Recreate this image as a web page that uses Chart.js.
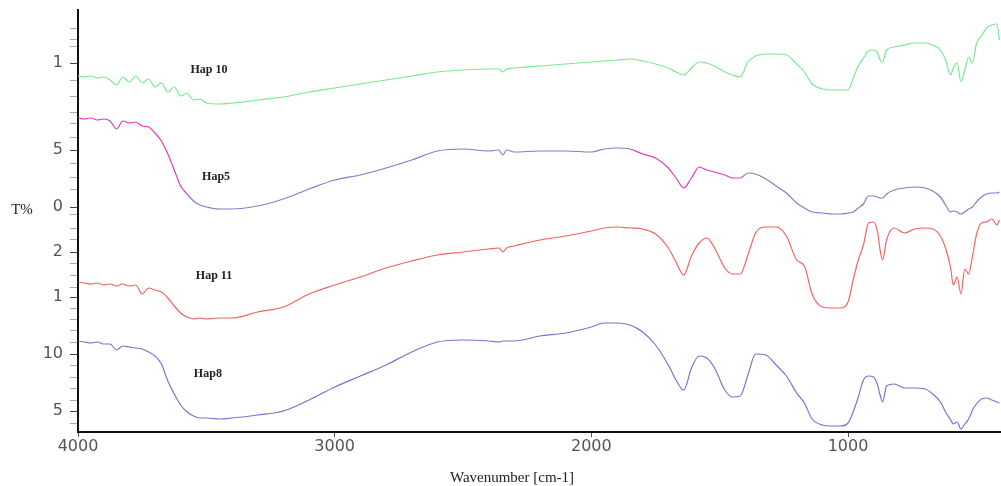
<!DOCTYPE html>
<html>
<head>
<meta charset="utf-8">
<script src="https://cdn.jsdelivr.net/npm/chart.js@4/dist/chart.umd.min.js"></script>
<style>
  html, body { margin: 0; padding: 0; background: #fff; }
</style>
</head>
<body>
<canvas id="ftir" width="1001" height="486"></canvas>
<script>
/* data (offset transmittance, spectra stacked) */
var wavenumber = [4000,3975,3950,3925,3900,3875,3850,3825,3800,3775,3750,3725,3700,3675,3650,3625,3600,3575,3550,3525,3500,
  3450,3400,
  3300,3200,3100,3000,2900,2800,2700,2600,2500,2400,
  2360,2345,2330,2300,
  2200,2100,2000,
  1950,1900,1850,1800,1750,1700,
  1670,1640,1610,1580,1550,1520,
  1480,1450,1420,1390,1360,
  1320,1280,1240,1200,
  1170,1140,1100,1060,1030,1000,
  980,960,940,920,900,
  885,875,865,850,
  820,780,740,700,
  670,640,620,600,
  590,575,560,545,530,515,500,
  480,460,440,420,410];

var hap10 = [356,355,356,354,355,352,347,355,350,356,349,353,345,349,340,345,336,339,332,333,329,
  328,329,
  332,335,340,344,348,352,356,360,362,363,
  363,360,363,364,
  366,368,370,
  371,372,373,371,368,364,
  360,357,364,370,369,366,
  360,357,355,370,376,
  378,378,377,368,
  360,348,343,342,342,342,
  354,366,374,381,382,
  379,372,370,382,
  385,387,389,389,
  387,382,372,357,
  364,369,350,362,375,369,388,
  396,404,407,408,392];

var hap5 = [314,313,314,312,313,311,303,311,309,310,306,305,299,291,278,262,246,238,231,227,225,
  223,223,
  226,233,243,252,257,264,272,281,283,281,
  282,277,282,280,
  281,281,280,
  283,284,283,278,274,264,
  254,244,254,265,262,260,
  257,254,254,259,258,
  253,246,239,229,
  224,220,219,218,218,219,
  220,224,228,236,236,
  235,234,234,238,
  242,244,245,244,
  241,235,227,220,
  221,220,218,220,223,225,230,
  235,238,239,239,240];

var hap11 = [150,149,148,149,147,148,146,148,146,147,138,144,142,140,134,126,119,115,113,114,113,
  114,114,
  120,125,138,147,155,164,171,177,180,183,
  184,180,184,186,
  192,196,201,
  204,205,204,203,198,184,
  170,157,176,189,194,184,
  164,158,158,177,199,
  205,205,196,172,
  166,138,125,124,124,130,
  152,172,187,209,210,
  200,182,172,192,
  204,199,203,204,
  203,196,184,164,
  147,155,138,163,158,176,197,
  209,210,213,207,212];

var hap8 = [91,90,89,90,88,88,82,86,85,84,83,80,76,68,51,38,27,20,16,14,14,
  13,14,
  17,21,32,45,56,67,80,90,92,91,
  90,91,91,91,
  96,99,105,
  109,109,107,100,87,67,
  52,42,64,76,74,64,
  42,35,36,57,78,
  77,67,56,39,
  29,13,7,6,6,9,
  20,35,52,56,55,
  47,37,30,46,
  48,44,44,43,
  38,30,20,12,
  8,10,3,8,13,22,28,
  33,34,32,30,29];

var seriesNames = ['Hap 10', 'Hap5', 'Hap 11', 'Hap8'];
var labelWn = [3490, 3462, 3470, 3494];
var labelLevel = [362, 255, 156, 58];

var xTicks = [4000, 3000, 2000, 1000];
var yMajorTicks = [369, 282, 225, 180, 135, 78, 21];
var yMajorLabels = ['1', '5', '0', '2', '1', '10', '5'];
var yMinorTicks = [403, 393, 385, 352, 335, 320, 309, 295, 269, 255, 242, 217, 204,
  192, 169, 157, 145, 124, 112, 102, 90, 67, 55, 44, 32, 9];

function pts(values) {
  return wavenumber.map((w, i) => ({ x: w, y: values[i] }));
}

var labelPlugin = {
  id: 'ftirLabels',
  afterDraw: function(chart) {
    var ctx = chart.ctx;
    var x = chart.scales.x, y = chart.scales.y;
    ctx.save();
    ctx.fillStyle = '#222';
    ctx.textAlign = 'center';
    ctx.textBaseline = 'middle';
    ctx.font = 'bold 12px "Liberation Serif", serif';
    seriesNames.forEach((name, i) => {
      ctx.fillText(name, x.getPixelForValue(labelWn[i]), y.getPixelForValue(labelLevel[i]));
    });
    ctx.font = '15px "Liberation Serif", serif';
    ctx.fillText('T%', 22, 210);
    ctx.fillText('Wavenumber [cm-1]', 512, 478);
    ctx.restore();
  }
};

var magentaZone = (w) => w > 3580 || (w < 1900 && w > 1440);

var ctx = document.getElementById('ftir').getContext('2d');
var ftirChart = new Chart(ctx, {
  type: 'line',
  data: {
    datasets: [
      { label: seriesNames[0], data: pts(hap10), borderColor: '#7ce893', borderWidth: 1.2 },
      { label: seriesNames[1], data: pts(hap5), borderColor: '#8a7ac6', borderWidth: 1.2,
        segment: { borderColor: (c) => magentaZone(c.p0.parsed.x) ? '#e23cb8' : '#8a7ac6' } },
      { label: seriesNames[2], data: pts(hap11), borderColor: '#ef6464', borderWidth: 1.2 },
      { label: seriesNames[3], data: pts(hap8), borderColor: '#7676cc', borderWidth: 1.2 }
    ]
  },
  options: {
    responsive: false,
    animation: false,
    events: [],
    layout: { padding: { top: 10, right: 0, left: 0, bottom: 0 } },
    elements: { point: { radius: 0 }, line: { cubicInterpolationMode: 'monotone' } },
    plugins: { legend: { display: false }, tooltip: { enabled: false } },
    scales: {
      x: {
        type: 'linear',
        reverse: true,
        min: 404,
        max: 4000,
        afterBuildTicks: (s) => { s.ticks = xTicks.map(v => ({ value: v })); },
        afterFit: (s) => { s.height = 54; },
        border: { display: true, color: '#111', width: 2 },
        grid: { drawOnChartArea: false, drawTicks: true, tickLength: 5, tickColor: '#555' },
        ticks: {
          autoSkip: false, maxRotation: 0, padding: 0,
          color: '#555',
          font: { family: '"DejaVu Sans", sans-serif', size: 16 },
          callback: (value) => String(value)
        }
      },
      y: {
        type: 'linear',
        min: 0,
        max: 422,
        afterBuildTicks: (s) => {
          s.ticks = yMajorTicks.concat(yMinorTicks).sort((a, b) => a - b).map(v => ({ value: v }));
        },
        afterFit: (s) => { s.width = 78; s.paddingTop = 0; s.paddingBottom = 0; },
        border: { display: true, color: '#111', width: 2 },
        grid: {
          drawOnChartArea: false, drawTicks: true, tickLength: 8,
          tickColor: (c) => yMajorTicks.indexOf(c.tick.value) >= 0 ? '#444' : '#aaa'
        },
        ticks: {
          autoSkip: false, padding: 7,
          color: '#555',
          font: { family: '"DejaVu Sans", sans-serif', size: 16 },
          callback: function(value) {
            var k = yMajorTicks.indexOf(value);
            return k >= 0 ? yMajorLabels[k] : '';
          }
        }
      }
    }
  },
  plugins: [labelPlugin]
});
</script>
</body>
</html>
